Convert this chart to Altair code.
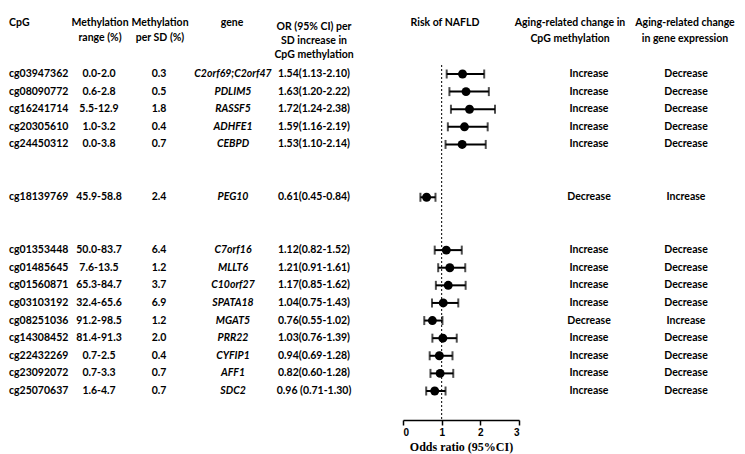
import altair as alt
import pandas as pd

# ---------------- data ----------------
cpg = ["cg03947362", "cg08090772", "cg16241714", "cg20305610", "cg24450312",
       "cg18139769",
       "cg01353448", "cg01485645", "cg01560871", "cg03103192", "cg08251036",
       "cg14308452", "cg22432269", "cg23092072", "cg25070637"]
meth_range = ["0.0-2.0", "0.6-2.8", "5.5-12.9", "1.0-3.2", "0.0-3.8",
              "45.9-58.8",
              "50.0-83.7", "7.6-13.5", "65.3-84.7", "32.4-65.6", "91.2-98.5",
              "81.4-91.3", "0.7-2.5", "0.7-3.3", "1.6-4.7"]
per_sd = ["0.3", "0.5", "1.8", "0.4", "0.7",
          "2.4",
          "6.4", "1.2", "3.7", "6.9", "1.2", "2.0", "0.4", "0.7", "0.7"]
gene = ["C2orf69;C2orf47", "PDLIM5", "RASSF5", "ADHFE1", "CEBPD",
        "PEG10",
        "C7orf16", "MLLT6", "C10orf27", "SPATA18", "MGAT5", "PRR22",
        "CYFIP1", "AFF1", "SDC2"]
or_text = ["1.54(1.13-2.10)", "1.63(1.20-2.22)", "1.72(1.24-2.38)",
           "1.59(1.16-2.19)", "1.53(1.10-2.14)",
           "0.61(0.45-0.84)",
           "1.12(0.82-1.52)", "1.21(0.91-1.61)", "1.17(0.85-1.62)",
           "1.04(0.75-1.43)", "0.76(0.55-1.02)", "1.03(0.76-1.39)",
           "0.94(0.69-1.28)", "0.82(0.60-1.28)", "0.96 (0.71-1.30)"]
cpg_change = ["Increase", "Increase", "Increase", "Increase", "Increase",
              "Decrease",
              "Increase", "Increase", "Increase", "Increase", "Decrease",
              "Increase", "Increase", "Increase", "Increase"]
gene_change = ["Decrease", "Decrease", "Decrease", "Decrease", "Decrease",
               "Increase",
               "Decrease", "Decrease", "Decrease", "Decrease", "Increase",
               "Decrease", "Decrease", "Decrease", "Decrease"]
# row slot of each CpG (two empty slots between groups)
slot = [0, 1, 2, 3, 4, 7, 10, 11, 12, 13, 14, 15, 16, 17, 18]
# plotted odds ratios (as drawn in the forest plot)
or_est = [1.54, 1.63, 1.72, 1.59, 1.53, 0.61, 1.12, 1.21, 1.17, 1.04, 0.76,
          1.03, 0.94, 0.96, 0.82]
or_lo = [1.13, 1.20, 1.24, 1.16, 1.10, 0.45, 0.82, 0.91, 0.85, 0.75, 0.55,
         0.76, 0.69, 0.71, 0.60]
or_hi = [2.10, 2.22, 2.38, 2.19, 2.14, 0.84, 1.52, 1.61, 1.62, 1.43, 1.02,
         1.39, 1.28, 1.30, 1.10]

df = pd.DataFrame(dict(slot=slot, cpg=cpg, meth_range=meth_range,
                       per_sd=per_sd, gene=gene, or_text=or_text,
                       cpg_change=cpg_change, gene_change=gene_change,
                       est=or_est, lo=or_lo, hi=or_hi))

FONT = "Lato"
FS = 10.5
TITLE = "Odds ratio (95%CI)"

yscale = alt.Scale(domain=[0, 18], range=[66, 383])
xscale = alt.Scale(domain=[0, 3], range=[395, 511])
xaxis = alt.Axis(values=[0, 1, 2, 3], format="d", grid=False,
                 domainColor="black", domainWidth=1.5,
                 tickColor="black", tickWidth=1.5, tickSize=5,
                 labelFont="Liberation Sans", labelFontWeight="bold",
                 labelFontSize=10, labelColor="black", labelPadding=2,
                 titleFont="Liberation Serif", titleFontSize=12,
                 titleFontWeight="bold", titleColor="black", titlePadding=4)


def X(f):
    return alt.X(f, scale=xscale, axis=xaxis, title=TITLE)


Y = alt.Y("slot:Q", scale=yscale, axis=None)
base = alt.Chart(df)


def col(field, xpix, align="center", italic=False):
    return base.mark_text(
        align=align, baseline="middle", font=FONT, fontSize=FS,
        fontWeight="bold", fontStyle="italic" if italic else "normal",
        color="black").encode(x=alt.value(xpix), y=Y, text=f"{field}:N")


def header(txt, xpix, ypix, align="center", lh=15):
    return alt.Chart(pd.DataFrame({"t": [txt]})).mark_text(
        align=align, baseline="middle", font=FONT, fontSize=FS,
        fontWeight="bold", color="black", lineBreak="\n",
        lineHeight=lh).encode(x=alt.value(xpix), y=alt.value(ypix),
                              text="t:N")


ref = alt.Chart(pd.DataFrame({"v": [1]})).mark_rule(
    strokeDash=[2, 2], strokeWidth=1, color="black").encode(
    x=X("v:Q"), y=alt.value(57), y2=alt.value(412))
bars = base.mark_rule(strokeWidth=2, color="black").encode(
    x=X("lo:Q"), x2=alt.X2("hi:Q"), y=Y)
cap_lo = base.mark_tick(orient="vertical", size=9, thickness=2,
                        color="black").encode(x=X("lo:Q"), y=Y)
cap_hi = base.mark_tick(orient="vertical", size=9, thickness=2,
                        color="black").encode(x=X("hi:Q"), y=Y)
dots = base.mark_circle(size=80, opacity=1, color="black").encode(
    x=X("est:Q"), y=Y)

layers = [
    ref, bars, cap_lo, cap_hi, dots,
    col("cpg", 1, align="left"),
    col("meth_range", 91),
    col("per_sd", 151),
    col("gene", 225, italic=True),
    col("or_text", 306),
    col("cpg_change", 581),
    col("gene_change", 678),
    header("CpG", 1, 14.7, align="left"),
    header("Methylation\nrange (%)", 92, 14.5),
    header("Methylation\nper SD (%)", 152, 14.5),
    header("gene", 224, 14.7),
    header("OR (95% CI) per\nSD increase in\nCpG methylation", 306, 19, lh=14),
    header("Risk of NAFLD", 437, 14.7),
    header("Aging-related change in\nCpG methylation", 562, 15, lh=16),
    header("Aging-related change\nin gene expression", 677, 15, lh=16),
]

chart = alt.layer(*layers).properties(
    width=729, height=412,
    autosize=alt.AutoSizeParams(type="none"),
    padding={"left": 0, "right": 0, "top": 0, "bottom": 34},
).configure_view(stroke=None)

chart.save("out.html", embed_options={"renderer": "svg", "actions": False})
